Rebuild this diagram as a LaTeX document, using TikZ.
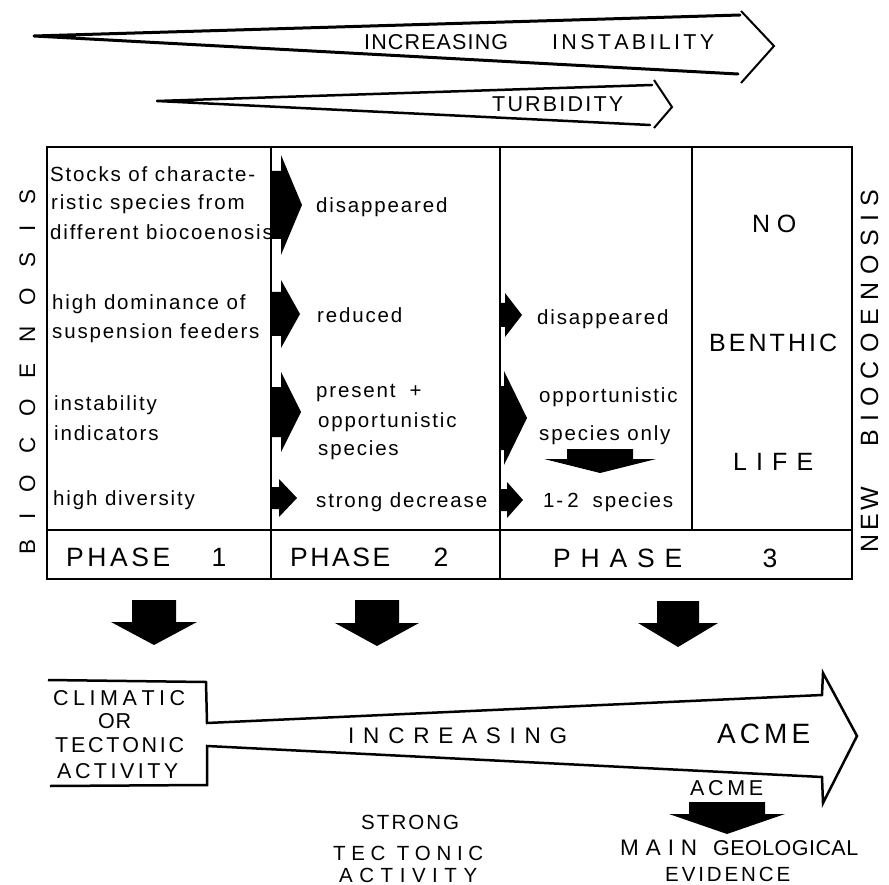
\documentclass[tikz,border=0pt]{standalone}
\usepackage{fontspec}
\setmainfont{Liberation Sans}
\newcommand\spr[2]{\makebox[#1][s]{#2}}
\newcommand\hf{\hfil}
\newcommand\rarr[6]{\fill (#1,#4-#5) -- (#2,#4-#5) -- (#2,#4-#6) -- (#3,#4) -- (#2,#4+#6) -- (#2,#4+#5) -- (#1,#4+#5) -- cycle;}
\newcommand\darr[7]{\fill (#1-#5,#2) -- (#1+#5,#2) -- (#1+#5,#3) -- (#1+#6,#3) -- (#1,#4) -- (#1-#6,#3) -- (#1-#5,#3) -- cycle;}
\begin{document}
\begin{tikzpicture}[x=1pt,y=-1pt,
  lbl/.style={inner sep=0pt, anchor=base west},
  ctr/.style={inner sep=0pt, anchor=base},
  body/.style={lbl, font=\fontsize{20.5}{24}\selectfont\addfontfeature{LetterSpace=9}},
  capA/.style={font=\fontsize{21.5}{21.5}\selectfont},
  capB/.style={font=\fontsize{20.5}{20.5}\selectfont},
  wedge/.style={line width=3pt, line join=round, line cap=round},
  headline/.style={line width=2pt, line join=miter},
  tline/.style={line width=2pt},
  bigarrow/.style={line width=2.5pt, line join=miter}]
\useasboundingbox (0,0) rectangle (889,885);

% top arrows
\draw[wedge] (740,15) -- (34,36) -- (738,74);
\draw[headline] (741,11) -- (774,46) -- (741,83);
\draw[wedge, line width=2.5pt] (652,85) -- (157,101) -- (650,125);
\draw[headline] (654,80) -- (672,107) -- (654,128);
\node[lbl, capA] (t1) at (364,50) {\spr{144pt}{I\hf N\hf C\hf R\hf E\hf A\hf S\hf I\hf N\hf G}};
\node[lbl, capA] (t2) at (552,50) {\spr{162pt}{I\hf N\hf S\hf T\hf A\hf B\hf I\hf L\hf I\hf T\hf Y}};
\node[lbl, capA] (t3) at (492,112) {\spr{131pt}{T\hf U\hf R\hf B\hf I\hf D\hf I\hf T\hf Y}};

% table
\draw[tline] (47,147) rectangle (852,579);
\draw[tline] (47,530) -- (852,530);
\draw[tline] (271,147) -- (271,579);
\draw[tline] (500,147) -- (500,579);
\draw[tline] (692,147) -- (692,530);

% side labels
\node[lbl, rotate=90, font=\fontsize{22.5}{22.5}\selectfont] (bio) at (35,555) {\spr{365pt}{B\hf I\hf O\hf C\hf O\hf E\hf N\hf O\hf S\hf I\hf S}};
\node[lbl, rotate=90, font=\fontsize{25}{25}\selectfont] (new) at (878,553) {\spr{66pt}{N\hf E\hf W}};
\node[lbl, rotate=90, font=\fontsize{25}{25}\selectfont] (nbio) at (878,447) {\spr{257pt}{B\hf I\hf O\hf C\hf O\hf E\hf N\hf O\hf S\hf I\hf S}};

% column 1
\node[body] (c1a) at (50,182) {Stocks of characte-};
\node[body] (c1b) at (51,210) {ristic species from};
\node[body] (c1c) at (50,240) {different biocoenosis};
\node[body] (c1d) at (52,310) {high dominance of};
\node[body] (c1e) at (52,338) {suspension feeders};
\node[body] (c1f) at (54,410) {instability};
\node[body] (c1g) at (54,440) {indicators};
\node[body] (c1h) at (53,505) {high diversity};
% column 2
\node[body] (c2a) at (316,213) {disappeared};
\node[body] (c2b) at (317,323) {reduced};
\node[body] (c2c) at (316,397) {present\hspace{14pt}+};
\node[body] (c2d) at (318,427) {opportunistic};
\node[body] (c2e) at (318,455) {species};
\node[body] (c2f) at (316,507) {strong decrease};
% column 3
\node[body] (c3a) at (537,325) {disappeared};
\node[body] (c3b) at (539,402) {opportunistic};
\node[body] (c3c) at (539,440) {species only};
\node[body] (c3d) at (543,507) {1-\hspace{4pt}2\hspace{14pt}species};
% column 4
\node[lbl, font=\fontsize{25}{25}\selectfont] (no) at (752,233) {\spr{44pt}{N\hf O}};
\node[lbl, font=\fontsize{25}{25}\selectfont] (benth) at (709,352) {\spr{128pt}{B\hf E\hf N\hf T\hf H\hf I\hf C}};
\node[lbl, font=\fontsize{25}{25}\selectfont] (life) at (733,470) {\spr{80pt}{L\hf I\hf F\hf E}};

% phase row
\node[lbl, font=\fontsize{26.5}{26.5}\selectfont] (p1) at (66,566) {\spr{104pt}{P\hf H\hf A\hf S\hf E}};
\node[ctr, font=\fontsize{26.5}{26.5}\selectfont] (n1) at (219,566) {1};
\node[lbl, font=\fontsize{26.5}{26.5}\selectfont] (p2) at (290,566) {\spr{100pt}{P\hf H\hf A\hf S\hf E}};
\node[ctr, font=\fontsize{26.5}{26.5}\selectfont] (n2) at (441,566) {2};
\node[lbl, font=\fontsize{26.5}{26.5}\selectfont] (p3) at (553,567) {\spr{129pt}{P\hf H\hf A\hf S\hf E}};
\node[ctr, font=\fontsize{26.5}{26.5}\selectfont] (n3) at (770,567) {3};

% block arrows in table
\rarr{271}{281}{302}{205}{34}{50}
\rarr{271}{281}{300}{314}{22}{34}
\rarr{271}{281}{301}{412}{25}{40}
\rarr{271}{279}{297}{498}{11}{19}
\rarr{500}{505}{522}{315}{12}{22}
\rarr{500}{504}{527}{418}{32}{47}
\rarr{500}{507}{523}{500}{11}{18}
\darr{600}{449}{459}{473}{33}{56}{}

% down arrows below table
\darr{154}{600}{622}{645}{22}{43}{}
\darr{377}{600}{623}{646}{22}{42}{}
\darr{678}{601}{623}{647}{21}{40}{}

% big bottom arrow
\draw[bigarrow] (48,680) -- (206,682) -- (207,723) -- (822,695) -- (823,673) -- (857,736) -- (823,803) -- (822,777) -- (207,746) -- (207,785) -- (50,786);
\node[lbl, capA] (cl1) at (53,705) {\spr{132pt}{C\hf L\hf I\hf M\hf A\hf T\hf I\hf C}};
\node[lbl, capA] (cl2) at (98,728) {\spr{33pt}{O\hf R}};
\node[lbl, capA] (cl3) at (55,752) {\spr{129pt}{T\hf E\hf C\hf T\hf O\hf N\hf I\hf C}};
\node[lbl, capA] (cl4) at (57,778) {\spr{121pt}{A\hf C\hf T\hf I\hf V\hf I\hf T\hf Y}};
\node[lbl, font=\fontsize{22.5}{22.5}\selectfont] (inc) at (348,743) {\spr{219pt}{I\hf N\hf C\hf R\hf E\hf A\hf S\hf I\hf N\hf G}};
\node[lbl, font=\fontsize{28}{28}\selectfont] (acme) at (717,743) {\spr{93pt}{A\hf C\hf M\hf E}};
\node[lbl, capA] (acme2) at (690,795) {\spr{73pt}{A\hf C\hf M\hf E}};
\darr{727}{802}{814}{834}{38}{58}{}
\node[lbl, font=\fontsize{22.5}{22.5}\selectfont] (main) at (620,855) {\spr{77pt}{M\hf A\hf I\hf N}};
\node[lbl, capA] (geol) at (713,855) {\spr{145pt}{G\hf E\hf O\hf L\hf O\hf G\hf I\hf C\hf A\hf L}};
\node[lbl, capB] (evid) at (665,881) {\spr{125pt}{E\hf V\hf I\hf D\hf E\hf N\hf C\hf E}};
\node[lbl, capB] (str) at (361,829) {\spr{98pt}{S\hf T\hf R\hf O\hf N\hf G}};
\node[lbl, capB] (tec) at (333,860) {\spr{150pt}{T\hf E\hf C\hf\hf T\hf O\hf N\hf I\hf C}};
\node[lbl, capB] (act) at (339,882) {\spr{138pt}{A\hf C\hf T\hf I\hf V\hf I\hf T\hf Y}};
\end{tikzpicture}
\end{document}
